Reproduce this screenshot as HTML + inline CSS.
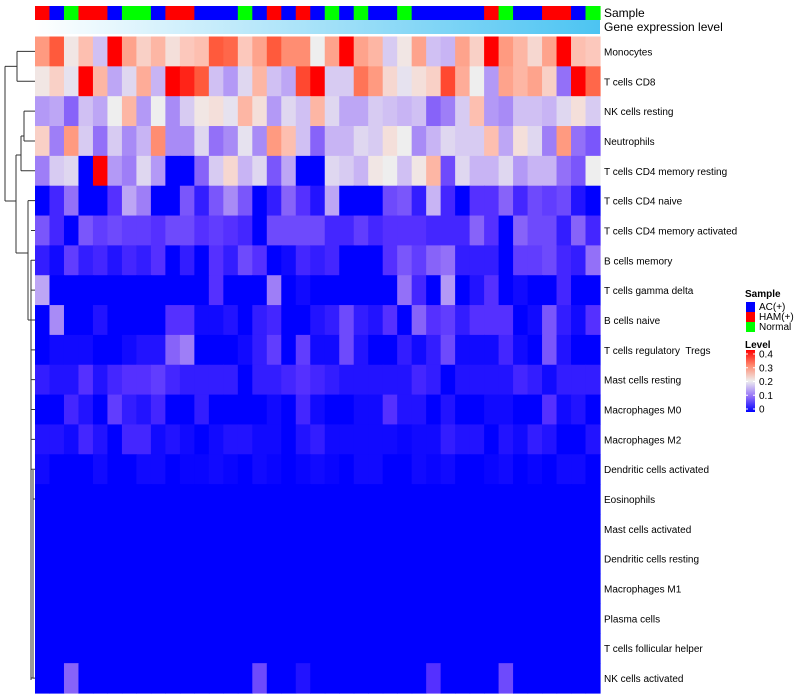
<!DOCTYPE html>
<html><head><meta charset="utf-8"><style>
body{margin:0;background:#fff;font-family:"Liberation Sans",sans-serif;}
svg{display:block}
text{white-space:pre}
</style></head><body>
<svg id="chart" width="800" height="700" xmlns="http://www.w3.org/2000/svg"></svg>
<script>
const rowNames=["Monocytes","T cells CD8","NK cells resting","Neutrophils","T cells CD4 memory resting","T cells CD4 naive","T cells CD4 memory activated","B cells memory","T cells gamma delta","B cells naive","T cells regulatory  Tregs","Mast cells resting","Macrophages M0","Macrophages M2","Dendritic cells activated","Eosinophils","Mast cells activated","Dendritic cells resting","Macrophages M1","Plasma cells","T cells follicular helper","NK cells activated"];
const sampleGroups=["R","B","G","R","R","B","G","G","B","R","R","B","B","B","G","B","R","B","R","B","G","B","G","B","B","G","B","B","B","B","B","R","G","B","B","R","R","B","G"];
const r1=[.30,.35,.21,.26,.16,.40,.29,.24,.27,.22,.25,.26,.35,.34,.25,.29,.35,.31,.31,.20,.29,.40,.29,.27,.17,.21,.29,.16,.15,.29,.24,.40,.30,.27,.23,.29,.40,.26,.25];
const r2=[.21,.24,.19,.40,.27,.14,.18,.28,.15,.40,.38,.35,.16,.13,.18,.27,.16,.14,.36,.40,.17,.17,.33,.30,.23,.19,.22,.24,.36,.28,.20,.13,.29,.27,.29,.24,.10,.40,.34];
const r3=[.13,.14,.09,.16,.14,.20,.27,.13,.20,.12,.17,.21,.22,.19,.27,.22,.13,.18,.16,.27,.18,.14,.14,.17,.16,.15,.16,.09,.11,.17,.26,.13,.12,.16,.16,.15,.18,.22,.17];
const r4=[.24,.11,.30,.17,.10,.17,.12,.15,.31,.12,.12,.18,.10,.12,.19,.12,.30,.26,.16,.09,.15,.15,.18,.17,.22,.20,.12,.15,.18,.17,.17,.26,.14,.22,.18,.11,.30,.10,.08];
const r5=[.11,.17,.18,0,.40,.13,.11,.18,.13,0,0,.09,.17,.23,.15,.18,.08,.14,0,0,.18,.17,.15,.21,.20,.16,.21,.27,.07,.18,.15,.15,.18,.13,.15,.15,.10,.08,.20];
const r6=[0,.04,.10,0,0,.05,.14,.11,0,0,.08,.03,.08,.12,.08,0,.03,.09,.05,.02,.14,0,0,0,.07,.08,.03,.15,.04,0,.05,.05,.09,.04,.07,.06,.07,.02,0];
const r7=[.08,.04,0,.08,.06,.07,.06,.06,.05,.07,.07,.05,.06,.05,.04,0,.07,.07,.07,.07,.04,.04,.06,.04,.05,.05,.05,.04,.04,.04,.09,.05,0,.09,.07,.07,.03,.09,.04];
const r8=[.03,.01,.06,.03,.04,.02,.04,.03,.05,0,.03,0,.05,.03,.07,.05,0,.01,.04,.03,.04,0,0,0,.05,.08,.06,.09,.10,.03,.03,.03,0,.06,.06,.07,.04,.03,.10];
const r9=[.14,0,0,0,0,0,0,0,0,0,0,0,.05,0,0,0,.11,0,.01,0,0,0,0,0,0,.10,.04,0,.13,0,.02,.05,0,.01,0,0,.04,0,0];
const r10=[0,.12,0,0,.02,0,0,0,0,.05,.05,.01,.01,.02,0,.03,.04,0,0,.02,.03,.07,.03,.02,.05,0,.09,.05,.06,.03,.05,.05,.05,0,.01,.08,.03,.01,.05];
const r11=[0,.01,.01,.01,0,0,.01,.02,.02,.09,.11,0,0,0,.01,.03,.06,0,.06,.01,.01,.07,.02,0,0,.03,.01,.03,.07,.01,.01,.01,.04,.01,0,.08,.02,0,0];
const r12=[.03,.02,.02,.05,.02,.04,.05,.05,.06,.04,.03,.03,.03,.03,0,.03,.03,.04,.05,.04,.03,.02,.02,.02,.02,.02,.04,.03,0,.02,.02,.02,.02,.04,.03,.01,.03,.03,.03];
const r13=[0,0,.04,.02,0,.06,.03,.02,.04,0,0,.03,0,0,0,0,.01,0,.04,.01,0,0,.01,.01,.05,.02,.02,0,.02,0,0,.01,.01,0,0,.05,.01,.02,0];
const r14=[.02,.02,.01,.04,.02,0,.04,.04,.01,.02,.01,0,.01,.02,.02,.01,.01,0,.02,.03,.01,.01,.01,.01,.01,.005,.01,.01,.03,.02,.02,0,.02,.01,.03,.02,0,0,.02];
const r15=[.01,0,0,0,.01,0,0,.01,.01,0,.005,.005,.01,.005,0,.01,.005,0,.005,.01,.005,0,.01,.01,0,0,.01,.005,.01,0,0,.005,.01,0,.005,0,.01,.01,0];
const rZero=new Array(39).fill(0);
const r22=[0,0,.09,0,0,0,0,0,0,0,0,0,0,0,0,.07,0,0,.02,0,0,0,0,0,0,0,0,.05,0,0,0,0,.07,0,0,0,0,0,0];
const matrix=[r1,r2,r3,r4,r5,r6,r7,r8,r9,r10,r11,r12,r13,r14,r15,rZero,rZero,rZero,rZero,rZero,rZero,r22];
const legendTicks=[0,0.1,0.2,0.3,0.4];

const NS="http://www.w3.org/2000/svg";
const svg=document.getElementById('chart');
function mk(tag,attrs,parent){const e=document.createElementNS(NS,tag);for(const k in attrs)e.setAttribute(k,attrs[k]);(parent||svg).appendChild(e);return e;}
const X0=35,X1=600,Y0=36.5,Y1=693;
const nCol=39,nRow=rowNames.length;
const cw=(X1-X0)/nCol,rh=(Y1-Y0)/nRow;
function xPos(i){return X0+i*cw;}
function yPos(j){return Y0+j*rh;}
const stops=[[0,[0,0,255]],[.05,[85,48,255]],[.1,[147,112,248]],[.15,[200,180,244]],[.2,[238,238,238]],[.25,[252,200,188]],[.3,[255,154,128]],[.35,[255,90,60]],[.4,[255,0,0]]];
function colorFor(v){v=Math.max(0,Math.min(.4,v));for(let i=1;i<stops.length;i++){if(v<=stops[i][0]){const a=stops[i-1],b=stops[i];const t=(v-a[0])/(b[0]-a[0]);const c=a[1].map((x,k)=>Math.round(x+(b[1][k]-x)*t));return `rgb(${c[0]},${c[1]},${c[2]})`;}}return 'rgb(255,0,0)';}
const sampleColor={R:"#ff0000",B:"#0000ff",G:"#00ff00"};

const gA=mk('g',{});


sampleGroups.forEach((s,i)=>{const r=mk('rect',{x:xPos(i),y:6,width:cw+0.6,height:14,fill:sampleColor[s]},gA);

});
const defs=mk('defs',{});
const lg=mk('linearGradient',{id:'gel',x1:0,x2:1,y1:0,y2:0},defs);
mk('stop',{offset:0,'stop-color':'#ffffff'},lg);mk('stop',{offset:1,'stop-color':'#4cc4f2'},lg);
const lg2=mk('linearGradient',{id:'lvl',x1:0,x2:0,y1:0,y2:1},defs);
[[0,'#ff0000'],[.25,'#ff8a70'],[.5,'#eeeeee'],[.75,'#9370f8'],[1,'#0000ff']].forEach(s=>mk('stop',{offset:s[0],'stop-color':s[1]},lg2));
const ge=mk('rect',{x:X0,y:20,width:X1-X0,height:14,fill:'url(#gel)'});


const t1=mk('text',{x:604,y:17,'font-size':12,fill:'#000'});t1.textContent='Sample';


const t2=mk('text',{x:604,y:31,'font-size':12,fill:'#000'});t2.textContent='Gene expression level';



const gH=mk('g',{});


matrix.forEach((row,j)=>{row.forEach((v,i)=>{const r=mk('rect',{x:xPos(i),y:yPos(j),width:cw+0.6,height:rh+0.6,fill:colorFor(v)},gH);

});
const t=mk('text',{x:604,y:yPos(j)+rh/2+4,'font-size':10,fill:'#000'});t.textContent=rowNames[j];

});

const yc=j=>yPos(j)+rh/2;
const dg=mk('g',{stroke:'#333','stroke-width':1,fill:'none'});


const d=[
`M35 ${yc(0)}H17M35 ${yc(1)}H17M17 ${yc(0)}V${yc(1)}`,
`M17 ${(yc(0)+yc(1))/2}H5`,
`M35 ${yc(2)}H24M35 ${yc(3)}H24M24 ${yc(2)}V${yc(3)}M24 136H21M35 ${yc(4)}H21M21 136V${yc(4)}`,
`M21 155H16M16 155V253M16 253H28`,
`M35 ${yc(5)}H28M28 ${yc(5)}V320M28 320H31`,
`M31 260V680M31 ${yc(6)}H35M31 ${yc(7)}H35M31 ${yc(8)}H35M31 ${yc(9)}H35M31 ${yc(10)}H35M31 ${yc(11)}H35M31 ${yc(12)}H35M31 ${yc(13)}H35M31 ${yc(14)}H35`,
`M33 470V678M33 ${yc(15)}H35M33 ${yc(21)}H35M31 678H33`,
`M5 ${(yc(0)+yc(1))/2}V201M5 201H16`
];
d.forEach(p=>mk('path',{d:p},dg));

const lgG=mk('g',{});


const lt=mk('text',{x:745,y:297,'font-size':10,'font-weight':'bold'},lgG);lt.textContent='Sample';
[['AC(+)','#0000ff'],['HAM(+)','#ff0000'],['Normal','#00ff00']].forEach((e,k)=>{
const r=mk('rect',{x:746,y:302+k*10,width:9,height:10,fill:e[1]},lgG);


const t=mk('text',{x:759,y:310+k*10,'font-size':10},lgG);t.textContent=e[0];

});
const lv=mk('text',{x:745,y:348,'font-size':10,'font-weight':'bold'},lgG);lv.textContent='Level';


const by0=354,by1=409;
mk('rect',{x:746,y:350,width:9,height:62,fill:'url(#lvl)'},lgG);
legendTicks.forEach(v=>{const y=by1-(v/0.4)*(by1-by0);
mk('line',{x1:746,x2:748,y1:y,y2:y,stroke:'#fff'},lgG);mk('line',{x1:753,x2:755,y1:y,y2:y,stroke:'#fff'},lgG);
const t=mk('text',{x:759,y:y+3.5,'font-size':10},lgG);t.textContent=v===0?'0':String(v);

});
</script>
</body></html>
